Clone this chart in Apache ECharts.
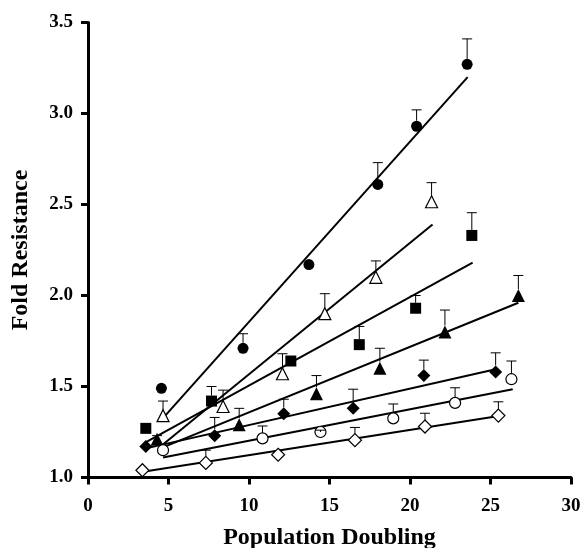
<!DOCTYPE html>
<html>
<head>
<meta charset="utf-8">
<script src="https://cdn.jsdelivr.net/npm/echarts@6/dist/echarts.min.js"></script>
<style>html,body{margin:0;padding:0;background:#fff;}#c{width:584px;height:548px;}</style>
</head>
<body>
<div id="c"></div>
<script>
// ---- data ----
var xTicks = [0, 5, 10, 15, 20, 25, 30];
var yTicks = [1.0, 1.5, 2.0, 2.5, 3.0, 3.5];

var circleX = [4.56, 9.63, 13.72, 18.0, 20.41, 23.55];
var circleY = [1.49, 1.71, 2.17, 2.61, 2.93, 3.27];
var circleErr = [null, 1.79, null, 2.73, 3.02, 3.41];

var openTriX = [4.66, 8.39, 12.08, 14.71, 17.88, 21.34];
var openTriY = [1.34, 1.39, 1.57, 1.90, 2.10, 2.515];
var openTriErr = [1.42, 1.48, 1.68, 2.01, 2.19, 2.62];

var squareX = [3.59, 7.67, 12.6, 16.85, 20.35, 23.84];
var squareY = [1.27, 1.42, 1.64, 1.73, 1.93, 2.33];
var squareErr = [null, 1.50, null, 1.83, 2.00, 2.455];

var triX = [4.29, 9.39, 14.19, 18.13, 22.17, 26.73];
var triY = [1.21, 1.29, 1.46, 1.60, 1.80, 2.00];
var triErr = [1.23, 1.38, 1.56, 1.71, 1.92, 2.11];

var diamondX = [3.59, 7.87, 12.16, 16.47, 20.86, 25.32];
var diamondY = [1.17, 1.23, 1.35, 1.38, 1.56, 1.58];
var diamondErr = [null, 1.33, 1.43, 1.485, 1.645, 1.685];

var openCircleX = [4.66, 10.84, 14.44, 18.96, 22.8, 26.3];
var openCircleY = [1.15, 1.215, 1.25, 1.325, 1.41, 1.54];
var openCircleErr = [null, 1.283, 1.26, 1.404, 1.493, 1.64];

var openDiamondX = [3.38, 7.32, 11.81, 16.58, 20.93, 25.49];
var openDiamondY = [1.04, 1.08, 1.125, 1.205, 1.28, 1.34];
var openDiamondErr = [null, 1.15, null, 1.275, 1.353, 1.416];

// regression line endpoints [x0, y0, x1, y1]
var circleFit = [4.7, 1.33, 23.58, 3.20];
var openTriFit = [4.5, 1.17, 21.4, 2.39];
var squareFit = [3.52, 1.19, 23.89, 2.18];
var triFit = [4.5, 1.16, 26.73, 1.96];
var diamondFit = [3.6, 1.16, 25.32, 1.595];
var openCircleFit = [4.66, 1.11, 26.38, 1.485];
var openDiamondFit = [3.32, 1.03, 25.32, 1.335];

// ---- build chart ----
var FONT = "'Liberation Serif', 'Times New Roman', serif";
var groups = [
  {x: circleX, y: circleY, e: circleErr, f: circleFit, symbol: 'circle', size: 11, hollow: false},
  {x: openTriX, y: openTriY, e: openTriErr, f: openTriFit, symbol: 'triangle', size: 12, hollow: true},
  {x: squareX, y: squareY, e: squareErr, f: squareFit, symbol: 'rect', size: 11, hollow: false},
  {x: triX, y: triY, e: triErr, f: triFit, symbol: 'triangle', size: 13, hollow: false},
  {x: diamondX, y: diamondY, e: diamondErr, f: diamondFit, symbol: 'diamond', size: 13, hollow: false},
  {x: openCircleX, y: openCircleY, e: openCircleErr, f: openCircleFit, symbol: 'circle', size: 11, hollow: true},
  {x: openDiamondX, y: openDiamondY, e: openDiamondErr, f: openDiamondFit, symbol: 'diamond', size: 13, hollow: true}
];

var series = [];
groups.forEach(function (g) {
  series.push({
    type: 'line',
    data: [[g.f[0], g.f[1]], [g.f[2], g.f[3]]],
    symbol: 'none',
    lineStyle: {color: '#000', width: 2},
    silent: true, z: 2, animation: false
  });
});
groups.forEach(function (g) {
  series.push({
    type: 'scatter',
    data: g.x.map(function (v, i) { return [v, g.y[i]]; }),
    symbol: g.symbol,
    symbolSize: g.size,
    itemStyle: g.hollow
      ? {color: '#fff', borderColor: '#000', borderWidth: 1.2, opacity: 1}
      : {color: '#000', borderColor: '#000', borderWidth: 0, opacity: 1},
    z: 3, animation: false
  });
});
groups.forEach(function (g) {
  var d = [];
  g.x.forEach(function (v, i) { if (g.e[i] != null) d.push([v, g.y[i], g.e[i]]); });
  var half = g.size / 2;
  series.push({
    type: 'custom',
    data: d,
    encode: {x: 0, y: 1},
    z: 4, animation: false, silent: true,
    renderItem: function (params, api) {
      var p = api.coord([api.value(0), api.value(1)]);
      var t = api.coord([api.value(0), api.value(2)]);
      var startY = p[1] - half;
      var children = [];
      if (t[1] < startY) {
        children.push({type: 'line', shape: {x1: p[0], y1: startY, x2: p[0], y2: t[1]}, style: {stroke: '#000', lineWidth: 1}});
      } else {
        children.push({type: 'line', shape: {x1: p[0], y1: p[1], x2: p[0], y2: t[1]}, style: {stroke: '#000', lineWidth: 1}});
      }
      children.push({type: 'line', shape: {x1: p[0] - 5, y1: t[1], x2: p[0] + 5, y2: t[1]}, style: {stroke: '#000', lineWidth: 1}});
      return {type: 'group', children: children};
    }
  });
});

var chart = echarts.init(document.getElementById('c'), null, {renderer: 'canvas'});
chart.setOption({
  animation: false,
  backgroundColor: '#fff',
  grid: {left: 88, right: 13, top: 22.5, bottom: 70.5, containLabel: false, outerBoundsMode: 'none'},
  xAxis: {
    type: 'value', min: xTicks[0], max: xTicks[xTicks.length - 1], interval: xTicks[1] - xTicks[0],
    name: 'Population Doubling', nameLocation: 'middle', nameGap: 48,
    nameTextStyle: {fontFamily: FONT, fontWeight: 'bold', fontSize: 24, color: '#000'},
    axisLine: {lineStyle: {color: '#000', width: 3}},
    axisTick: {show: true, length: 7, lineStyle: {color: '#000', width: 3}},
    axisLabel: {fontFamily: FONT, fontWeight: 'bold', fontSize: 19, color: '#000', margin: 19},
    splitLine: {show: false}
  },
  yAxis: {
    type: 'value', min: yTicks[0], max: yTicks[yTicks.length - 1], interval: yTicks[1] - yTicks[0],
    name: 'Fold Resistance', nameLocation: 'middle', nameGap: 55, nameRotate: 90,
    nameTextStyle: {fontFamily: FONT, fontWeight: 'bold', fontSize: 24, color: '#000'},
    axisLine: {show: true, lineStyle: {color: '#000', width: 3}},
    axisTick: {show: true, length: 7, lineStyle: {color: '#000', width: 3}},
    axisLabel: {fontFamily: FONT, fontWeight: 'bold', fontSize: 19, color: '#000', margin: 15,
      formatter: function (v) { return v.toFixed(1); }},
    splitLine: {show: false}
  },
  series: series
});
</script>
</body>
</html>
